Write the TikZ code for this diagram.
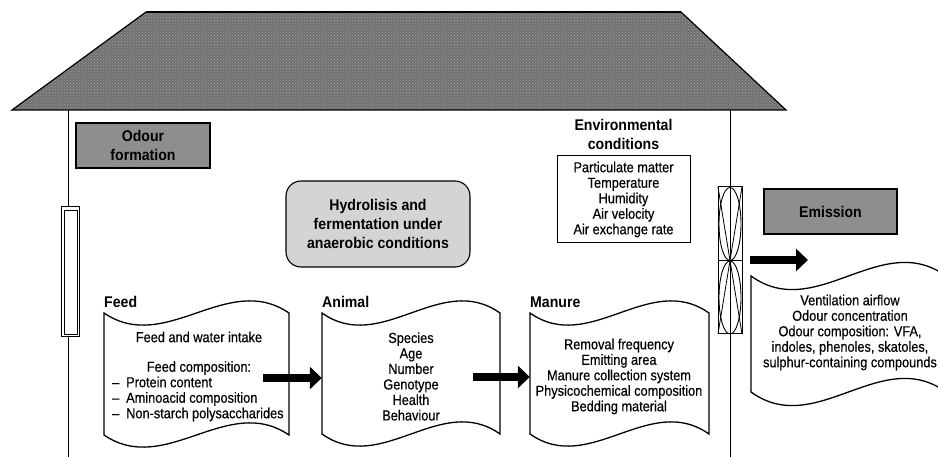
\documentclass[tikz,border=0pt]{standalone}
\usepackage{fontspec}
\setmainfont{Liberation Sans}[FakeStretch=0.91]
\newfontfamily\regfam{Liberation Sans}[FakeStretch=0.88,FakeBold=0.4,Ligatures=TeX]
\usetikzlibrary{arrows.meta,patterns}
\definecolor{roofgray}{HTML}{707070}
\definecolor{roofdot}{HTML}{A4A4A4}
\definecolor{boxgray}{HTML}{8E8E8E}
\definecolor{lightbox}{HTML}{D4D4D4}
\newcommand\regfont{\regfam\fontsize{14.5}{15.5}\selectfont}
\newcommand\ttlfont{\fontsize{15.5}{19}\selectfont\bfseries}
% x0,y0 (top), x1, y1 (bottom), bend
\newcommand\docshape[5]{%
  \draw[docline] (#1,#2) .. controls ({#1+(#3-#1)/3},{#2+#5}) and ({#1+2*(#3-#1)/3},{#2-#5}) .. (#3,#2)
    -- (#3,#4) .. controls ({#1+2*(#3-#1)/3},{#4-#5}) and ({#1+(#3-#1)/3},{#4+#5}) .. (#1,#4) -- cycle;}
\begin{document}
\begin{tikzpicture}[x=1pt,y=-1pt,
  graybox/.style={draw, line width=1.1pt, fill=boxgray, font=\ttlfont, align=center, inner sep=0pt},
  hydrobox/.style={draw, line width=1.1pt, fill=lightbox, rounded corners=15pt, font=\ttlfont, align=center, inner sep=0pt},
  envbox/.style={draw, line width=1pt, font=\regfont, align=center, inner sep=0pt},
  txt/.style={font=\regfont, align=center, inner sep=0pt},
  ttl/.style={font=\ttlfont, align=center, inner sep=0pt},
  lbl/.style={font=\ttlfont, inner sep=0pt, anchor=west},
  docframe/.style={inner sep=0pt},
  docline/.style={draw, line width=1.3pt, fill=white},
  wall/.style={line width=1pt},
  bigarrow/.style={line width=8pt, -{Triangle[length=12pt,width=22pt]}}
]
\useasboundingbox (0,0) rectangle (938,457);
\fill[white] (0,0) rectangle (938,457);

% roof
\fill[roofgray] (12,110) -- (146,12) -- (681,12) -- (786,110) -- cycle;
\fill[pattern=crosshatch dots, pattern color=roofdot] (12,110) -- (146,12) -- (681,12) -- (786,110) -- cycle;
\draw[line width=1.2pt, line join=miter] (12,110) -- (146,12) -- (681,12) -- (786,110) -- cycle;
\draw[line width=2.2pt] (146,12) -- (681,12);

% walls
\draw[wall] (68,110) -- (68,457);
\draw[wall] (730,110) -- (730,457);

% window
\node[draw, line width=1pt, fill=white, minimum width=18pt, minimum height=130pt, inner sep=0pt] (window) at (70.5,272) {};
\draw[line width=0.9pt] (64,210) rectangle (77,334);

% fan
\node[draw, line width=1pt, fill=white, minimum width=24pt, minimum height=147pt, inner sep=0pt] (fan) at (730,260.5) {};
\draw[line width=0.9pt] (718,260.5) -- (742,260.5);
\draw[line width=0.9pt] (730,224) ellipse [x radius=11, y radius=36.5];
\draw[line width=0.9pt] (730,297.5) ellipse [x radius=11, y radius=36.5];
\draw[line width=0.8pt] (718,187) -- (742,334);
\draw[line width=0.8pt] (742,187) -- (718,334);
\draw[line width=0.9pt] (730,187) -- (730,334);

% boxes
\node[graybox, minimum width=134pt, minimum height=45pt] (oform) at (143,145.5) {Odour\\formation};
\node[hydrobox, minimum width=184pt, minimum height=86pt] (hydro) at (378,224) {Hydrolisis and\\fermentation under\\anaerobic conditions};
\node[ttl] (envttl) at (623.5,134.5) {Environmental\\conditions};
\node[envbox, minimum width=133pt, minimum height=87pt] (env) at (623.5,199.5) {Particulate matter\\Temperature\\Humidity\\Air velocity\\Air exchange rate};
\node[graybox, minimum width=133pt, minimum height=45pt] (emis) at (830.5,211.5) {Emission};

% documents
\docshape{104}{313}{289}{435}{42}
\docshape{322}{313}{500}{434}{42}
\docshape{530}{313}{709}{434}{42}
\docshape{751}{276}{946}{392}{47}
\node[docframe, minimum width=185pt, minimum height=122pt] (feed) at (196.5,374) {};
\node[docframe, minimum width=178pt, minimum height=121pt] (animal) at (411,373.5) {};
\node[docframe, minimum width=179pt, minimum height=121pt] (manure) at (619.5,373.5) {};
\node[docframe, minimum width=195pt, minimum height=116pt] (emdoc) at (848.5,334) {};

% labels
\node[lbl] (feedlbl) at (104,302) {Feed};
\node[lbl] (animallbl) at (322,302) {Animal};
\node[lbl] (manurelbl) at (530,302) {Manure};

% texts
\node[txt] (feedt1) at (199,337) {Feed and water intake};
\node[txt] (feedt2) at (199,368) {Feed composition:};
\node[txt, align=left, anchor=west] (feedt3) at (112,399)
  {\makebox[14pt][l]{–}Protein content\\\makebox[14pt][l]{–}Aminoacid composition\\\makebox[14pt][l]{–}Non-starch polysaccharides};
\node[txt] (animalt) at (411,376.5) {Species\\Age\\Number\\Genotype\\Health\\Behaviour};
\node[txt] (manuret) at (619,376.5) {Removal frequency\\Emitting area\\Manure collection system\\Physicochemical composition\\Bedding material};
\node[txt] (emdoct) at (850,332.5) {Ventilation airflow\\Odour concentration\\Odour composition: VFA,\\indoles, phenoles, skatoles,\\sulphur-containing compounds};

% arrows
\coordinate (a1) at (263,378);
\coordinate (a2) at (473,377);
\coordinate (a3) at (750,260);
\coordinate (a3tip) at (808,260);
\draw[bigarrow] (a1) -- (animal.west |- a1);
\draw[bigarrow] (a2) -- (manure.west |- a2);
\draw[bigarrow] (a3) -- (a3tip);
\end{tikzpicture}
\end{document}
